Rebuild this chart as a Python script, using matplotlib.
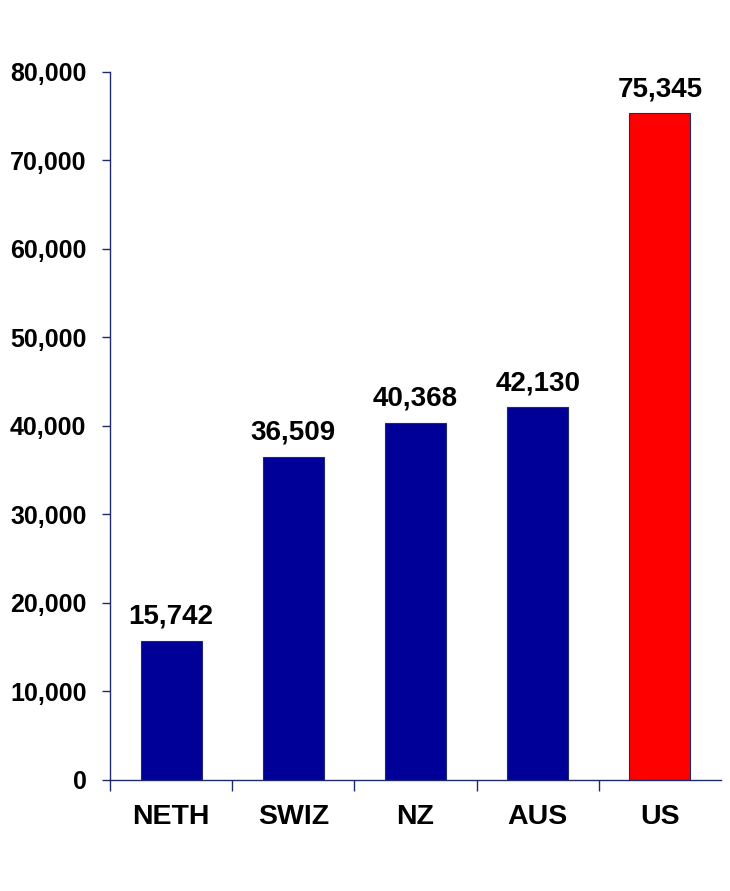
import matplotlib.pyplot as plt
import numpy as np

countries = ["NETH", "SWIZ", "NZ", "AUS", "US"]
values = [15742, 36509, 40368, 42130, 75345]
bar_colors = ["#000099", "#000099", "#000099", "#000099", "#FF0000"]

navy = "#1F2A6B"

plt.rcParams['font.family'] = ['Liberation Sans', 'DejaVu Sans']
plt.rcParams['font.weight'] = 'bold'

fig = plt.figure(figsize=(7.3, 8.91), dpi=100)
ax = fig.add_axes([0.1507, 0.1246, 0.8370, 0.7946])

x = np.arange(len(countries))
bars = ax.bar(x, values, width=0.5, color=bar_colors, edgecolor=navy, linewidth=0.8)

for xi, v in zip(x, values):
    ax.annotate(f"{v:,}", (xi, v), xytext=(0, 8), textcoords="offset points",
                ha="center", va="bottom", fontsize=20, fontweight="bold")

ax.set_xlim(-0.5, 4.5)
ax.set_ylim(0, 80000)
ax.set_yticks(np.arange(0, 80001, 10000))
ax.set_yticklabels([f"{t:,}" for t in range(0, 80001, 10000)], fontsize=18, fontweight="bold")

ax.set_xticks(x)
ax.set_xticklabels(countries, fontsize=20.5, fontweight="bold")
ax.tick_params(axis="x", which="major", length=0, pad=17)
ax.set_xticks(np.arange(-0.5, 4.0, 1.0), minor=True)
ax.tick_params(axis="x", which="minor", length=8, color=navy, width=1)
ax.tick_params(axis="y", length=6, color=navy, width=1, pad=11)

for s in ["top", "right"]:
    ax.spines[s].set_visible(False)
for s in ["left", "bottom"]:
    ax.spines[s].set_color(navy)
    ax.spines[s].set_linewidth(1)

fig.savefig("out.png", dpi=100)
